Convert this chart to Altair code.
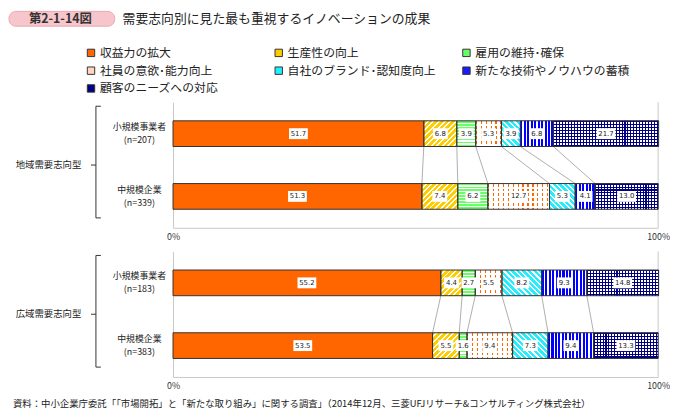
import math
import altair as alt
import pandas as pd

FONT = "Noto Sans CJK JP"
NUMFONT = "DejaVu Sans"

# ---------------- data ----------------
categories = ["収益力の拡大", "生産性の向上", "雇用の維持･確保", "社員の意欲･能力向上",
              "自社のブランド･認知度向上", "新たな技術やノウハウの蓄積", "顧客のニーズへの対応"]
legend_colors = ["#ff6600", "#ffcc00", "#66ff66", "#ffd6bd", "#22eeff", "#1a1aff", "#000080"]

group_names = ["地域需要志向型", "広域需要志向型"]
rows_local = ["小規模事業者\n(n=207)", "中規模企業\n(n=339)"]
rows_wide = ["小規模事業者\n(n=183)", "中規模企業\n(n=383)"]

local_small = [51.7, 6.8, 3.9, 5.3, 3.9, 6.8, 21.7]
local_mid = [51.3, 7.4, 6.2, 12.7, 5.3, 4.1, 13.0]
wide_small = [55.2, 4.4, 2.7, 5.5, 8.2, 9.3, 14.8]
wide_mid = [53.5, 5.5, 1.6, 9.4, 7.3, 9.4, 13.3]

axis_values = [0, 100]
fig_no = "第2-1-14図"
title_text = "需要志向別に見た最も重視するイノベーションの成果"
source_text = "資料：中小企業庁委託「「市場開拓」と「新たな取り組み」に関する調査」（2014年12月、三菱UFJリサーチ&コンサルティング株式会社）"

# ---------------- geometry / style ----------------
PW, PH, BH = 491, 127, 26

# fill patterns (kind, colour1, colour2, period px, fraction of colour1)
patterns = {
    1: [("d/", "#ffcc00", "#ffffff", 4.0, 0.65)],
    2: [("h", "#66ff66", "#ffffff", 3.0, 0.62)],
    3: [("v", "#ff6600", "#ffffff", 5.0, 0.25), ("h", "rgba(255,255,255,0)", "#ffffff", 5.0, 0.6)],
    4: [("d\\", "#22eeff", "#ffffff", 4.0, 0.6)],
    5: [("v", "#0000ff", "#ffffff", 3.5, 0.6)],
    6: [("v", "#000080", "#ffffff", 3.0, 0.35), ("h", "#000080", "rgba(0,0,128,0)", 3.0, 0.35)],
}


def stripe_stops(c1, c2, n, f):
    step = 1.0 / max(n, 0.5)
    stops = []
    i = 0
    while i * step < 1:
        a = i * step
        b = min((i + f) * step, 1.0)
        c = min((i + 1) * step, 1.0)
        stops += [(a, c1), (b, c1), (b, c2), (c, c2)]
        i += 1
    return [{"offset": round(o, 5), "color": col} for o, col in stops]


def grad(kind, c1, c2, period, frac, w):
    h = BH
    if kind == "v":
        n = w / period
        g = dict(x1=0, y1=0, x2=1, y2=0)
    elif kind == "h":
        n = h / period
        g = dict(x1=0, y1=0, x2=0, y2=1)
    else:
        r = h / w
        k = (1 + r) / (1 + r * r)
        n = (w + h) / (period * math.sqrt(2))
        if kind == "d/":
            g = dict(x1=0, y1=0, x2=k, y2=k * r)
        else:
            g = dict(x1=0, y1=1, x2=k, y2=1 - k * r)
    g["gradient"] = "linear"
    g["stops"] = stripe_stops(c1, c2, n, frac)
    return g


X_SCALE = alt.Scale(domain=[0, 100], nice=False, zero=False)
X_AXIS = alt.Axis(values=axis_values, labelExpr="datum.value + '%'", ticks=False, grid=False,
                  domainColor="#c8c8c8", domainWidth=1, title=None, labelFontSize=9, labelFont=FONT,
                  labelColor="#333333", labelPadding=5, labelFlush=False)
Y_AXIS = alt.Axis(labels=False, ticks=False, title=None, domainColor="#c8c8c8", domainWidth=1, grid=False)

P3 = "M-0.75,-0.55L0.75,-0.55L0.75,0.55L-0.75,0.55Z"
P4 = "M-0.95,-0.55L0.95,-0.55L0.95,0.55L-0.95,0.55Z"

ONE = pd.DataFrame({"t": [""]})


def seg_frame(rows, tops, bots):
    recs = []
    sid = 0
    for r, vals in zip(rows, [tops, bots]):
        cum = 0.0
        for i, (c, v) in enumerate(zip(categories, vals)):
            lab = f"{v:.1f}"
            recs.append(dict(sid=sid, row=r, cat=c, ci=i, value=v, start=cum, end=cum + v,
                             mid=cum + v / 2, lab=lab, blen=str(len(lab))))
            cum += v
            sid += 1
    return pd.DataFrame(recs)


def panel(rows, tops, bots, group, first):
    ys = alt.Scale(domain=rows, paddingInner=0, paddingOuter=0)
    df = seg_frame(rows, tops, bots)
    enc = dict(x=alt.X("start:Q", scale=X_SCALE, axis=X_AXIS), x2=alt.X2("end"),
               y=alt.Y("row:N", scale=ys, axis=Y_AXIS))
    layers = []

    # connector lines between the two bars
    ct = [sum(tops[:k + 1]) for k in range(6)]
    cb = [sum(bots[:k + 1]) for k in range(6)]
    conn = pd.DataFrame({"xt": ct, "xb": cb, "ya": [rows[0]] * 6, "yb": [rows[1]] * 6})
    layers.append(alt.Chart(conn).mark_rule(color="#9a9a9a", strokeWidth=0.8,
                                            yOffset=BH / 2, y2Offset=-BH / 2).encode(
        x=alt.X("xt:Q", scale=X_SCALE, axis=X_AXIS), x2=alt.X2("xb"),
        y=alt.Y("ya:N", scale=ys, axis=Y_AXIS), y2=alt.Y2("yb")))

    # right border
    layers.append(alt.Chart(ONE).mark_rule(color="#c8c8c8", strokeWidth=1).encode(
        x=alt.value(PW), y=alt.value(0), y2=alt.value(PH)))

    # base bars (solid colours, legend)
    if first:
        leg = alt.Legend(orient="none", legendX=-89, legendY=-56, columns=3, direction="horizontal",
                         title=None, symbolType="square", symbolSize=56, symbolStrokeColor="#333333",
                         symbolStrokeWidth=1, labelFont=FONT, labelFontSize=12, labelColor="#222222",
                         columnPadding=18, rowPadding=6, gridAlign="all", labelLimit=250,
                         labelOffset=3, padding=0)
    else:
        leg = None
    layers.append(alt.Chart(df).mark_bar(size=BH).encode(
        color=alt.Color("cat:N", scale=alt.Scale(domain=categories, range=legend_colors), legend=leg),
        **enc))

    # pattern overlays
    for _, s in df.iterrows():
        if s["ci"] not in patterns:
            continue
        w = s["value"] / 100 * PW
        sub = df[df["sid"] == s["sid"]]
        for kind, c1, c2, per, fr in patterns[s["ci"]]:
            layers.append(alt.Chart(sub).mark_bar(size=BH, fill=grad(kind, c1, c2, per, fr, w)).encode(**enc))

    # borders
    layers.append(alt.Chart(df).mark_bar(size=BH, fillOpacity=0, stroke="#333333", strokeWidth=1).encode(**enc))

    # value label boxes and texts
    layers.append(alt.Chart(df).mark_point(filled=True, size=400, color="white", opacity=1, strokeWidth=0).encode(
        x=alt.X("mid:Q", scale=X_SCALE, axis=X_AXIS), y=alt.Y("row:N", scale=ys, axis=Y_AXIS),
        shape=alt.Shape("blen:N", scale=alt.Scale(domain=["3", "4"], range=[P3, P4]), legend=None)))
    layers.append(alt.Chart(df).mark_text(font=NUMFONT, fontSize=7, color="#222222").encode(
        x=alt.X("mid:Q", scale=X_SCALE, axis=X_AXIS), y=alt.Y("row:N", scale=ys, axis=Y_AXIS),
        text="lab:N"))

    # row labels (two lines as separate texts)
    rdf = pd.DataFrame({"row": rows,
                        "l1": [r.split("\n")[0] for r in rows],
                        "l2": [r.split("\n")[1] for r in rows]})
    for col, dy in (("l1", -6.7), ("l2", 6.7)):
        layers.append(alt.Chart(rdf).mark_text(font=FONT, fontSize=9, dy=dy, align="center",
                                               baseline="middle", color="#222222").encode(
            x=alt.value(-34), y=alt.Y("row:N", scale=ys, axis=Y_AXIS), text=f"{col}:N"))

    # group label and bracket
    gdf = pd.DataFrame({"g": [group]})
    layers.append(alt.Chart(gdf).mark_text(font=FONT, fontSize=9.5, align="center", baseline="middle",
                                           color="#222222").encode(
        x=alt.value(-126), y=alt.value(PH / 2), text="g:N"))
    br = dict(color="#333333", strokeWidth=1)
    layers.append(alt.Chart(ONE).mark_rule(**br).encode(x=alt.value(-78), y=alt.value(4), y2=alt.value(PH - 10)))
    layers.append(alt.Chart(ONE).mark_rule(**br).encode(x=alt.value(-78), x2=alt.value(-73), y=alt.value(4)))
    layers.append(alt.Chart(ONE).mark_rule(**br).encode(x=alt.value(-78), x2=alt.value(-73), y=alt.value(PH - 10)))
    layers.append(alt.Chart(ONE).mark_rule(**br).encode(x=alt.value(-83), x2=alt.value(-78), y=alt.value(PH / 2)))

    if first:
        layers.append(alt.Chart(ONE).mark_rect(cornerRadius=7, fill="#f6c6cc", stroke="#eba6af", strokeWidth=1).encode(
            x=alt.value(-166), x2=alt.value(-59), y=alt.value(-92), y2=alt.value(-77)))
        layers.append(alt.Chart(pd.DataFrame({"t": [fig_no]})).mark_text(
            font=FONT, fontSize=12.5, fontWeight="bold", color="#333333", align="center", baseline="middle").encode(
            x=alt.value(-114), y=alt.value(-84.5), text="t:N"))
        layers.append(alt.Chart(pd.DataFrame({"t": [title_text]})).mark_text(
            font=FONT, fontSize=13, color="#222222", align="left", baseline="middle").encode(
            x=alt.value(-51), y=alt.value(-84.5), text="t:N"))
    else:
        layers.append(alt.Chart(pd.DataFrame({"t": [source_text]})).mark_text(
            font=FONT, fontSize=9.5, color="#222222", align="left", baseline="middle").encode(
            x=alt.value(-162), y=alt.value(154.5), text="t:N"))

    return alt.layer(*layers).properties(width=PW, height=PH)


p1 = panel(rows_local, local_small, local_mid, group_names[0], True)
p2 = panel(rows_wide, wide_small, wide_mid, group_names[1], False)

chart = (alt.vconcat(p1, p2, spacing=9)
         .resolve_scale(color="independent", shape="independent")
         .resolve_legend(color="independent")
         .properties(padding=0)
         .configure_view(stroke=None))

chart.save("out.html", embed_options={"renderer": "svg", "actions": False})
